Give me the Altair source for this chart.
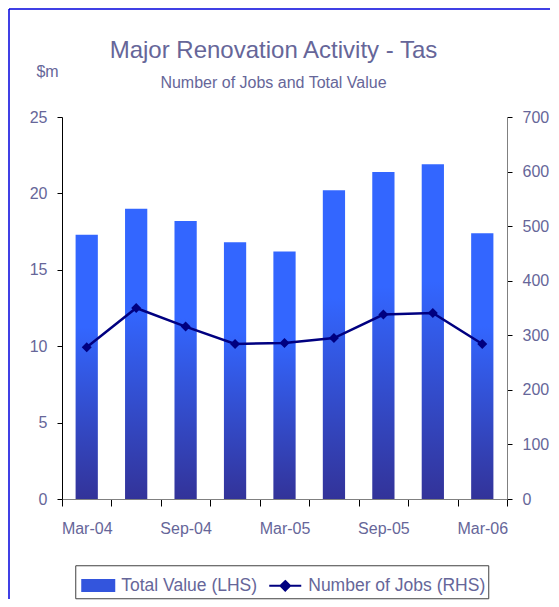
import json
import altair as alt
import pandas as pd

# ---- data ----
quarters = ["Mar-04", "Jun-04", "Sep-04", "Dec-04", "Mar-05",
            "Jun-05", "Sep-05", "Dec-05", "Mar-06"]
total_value = [17.3, 19.0, 18.2, 16.8, 16.2, 20.2, 21.4, 21.9, 17.4]   # $m (LHS)
num_jobs = [278, 350, 316, 284, 286, 295, 338, 341, 284]              # jobs (RHS)
left_ticks = [0, 5, 10, 15, 20, 25]
right_ticks = [0, 100, 200, 300, 400, 500, 600, 700]
shown_labels = ["Mar-04", "Sep-04", "Mar-05", "Sep-05", "Mar-06"]
series = ["Total Value (LHS)", "Number of Jobs (RHS)"]

FONT = "Liberation Sans"
TXT = "#666699"
NAVY = "#000080"

df = pd.DataFrame({"quarter": quarters, "value": total_value,
                   "jobs": num_jobs, "series": series[1]})
frame_df = pd.DataFrame({"k": [0]})

bar_gradient = {
    "gradient": "linear", "x1": 1, "y1": 1, "x2": 1, "y2": 0,
    "stops": [{"offset": 0, "color": "#333399"},
              {"offset": 0.65, "color": "#3366ff"},
              {"offset": 1, "color": "#3366ff"}],
}

x_enc = alt.X(
    "quarter:N", sort=quarters,
    scale=alt.Scale(type="band", paddingInner=0, paddingOuter=0),
    axis=alt.Axis(
        title=None, tickBand="extent", labelAngle=0,
        labelExpr=f"indexof({json.dumps(shown_labels)}, datum.value) >= 0 ? datum.value : ''",
        domainColor="#808080", tickColor="black", tickSize=7, labelPadding=14,
        grid=False,
    ),
)

bars = alt.Chart(df).mark_bar(color=bar_gradient, width={"band": 0.45}).encode(
    x=x_enc,
    y=alt.Y(
        "value:Q",
        scale=alt.Scale(domain=[0, 25], nice=False),
        axis=alt.Axis(
            orient="left", values=left_ticks, grid=False,
            title="$m", titleAngle=0, titleX=-15, titleY=-41,
            titleAlign="center", titleBaseline="alphabetic",
            domainColor="black", tickColor="black", tickSize=5, labelPadding=10,
        ),
    ),
)

cond = f"datum.value === '{series[0]}'"
rect_path = "M-1,-0.34H1V0.34H-1Z"
line_path = "M-1,0H1M0,-0.3L0.3,0L0,0.3L-0.3,0Z"
grad_expr = ("{gradient:'linear',x1:1,y1:1,x2:1,y2:0,"
             "stops:[{offset:0,color:'#333399'},{offset:1,color:'#3366ff'}]}")

legend = alt.Legend(
    title=None, orient="none", legendX=13.25, legendY=448.25,
    direction="horizontal", strokeColor="#404040", fillColor="white",
    padding=3, symbolOffset=3, labelFont=FONT, labelFontSize=17.5,
    labelColor=TXT, labelLimit=300, labelOffset=6, columnPadding=8,
    symbolSize=1024, symbolStrokeWidth=2, symbolOpacity=1,
    symbolType=alt.ExprRef(f"{cond} ? '{rect_path}' : '{line_path}'"),
    symbolFillColor=alt.ExprRef(f"{cond} ? {grad_expr} : '{NAVY}'"),
    symbolStrokeColor=alt.ExprRef(f"{cond} ? 'transparent' : '{NAVY}'"),
)

line = alt.Chart(df).mark_line(
    strokeWidth=2.5,
    point=alt.OverlayMarkDef(shape="diamond", size=100, filled=True),
).encode(
    x=x_enc,
    y=alt.Y(
        "jobs:Q",
        scale=alt.Scale(domain=[0, 700], nice=False),
        axis=alt.Axis(
            orient="right", values=right_ticks, grid=False, title=None,
            domainColor="#808080", tickColor="black", tickSize=5, labelPadding=10,
        ),
    ),
    color=alt.Color("series:N",
                    scale=alt.Scale(domain=series, range=["#3355dd", NAVY]),
                    legend=legend),
)

border = "#0000dd"
top_rule = alt.Chart(frame_df).mark_rule(color=border, strokeWidth=1.5).encode(
    x=alt.value(-53), x2=alt.value(488), y=alt.value(-108))
left_rule = alt.Chart(frame_df).mark_rule(color=border, strokeWidth=1.5).encode(
    x=alt.value(-53), y=alt.value(-108), y2=alt.value(482))

chart = alt.layer(top_rule, left_rule, bars, line).resolve_scale(
    y="independent"
).properties(
    width=445, height=382,
    padding={"left": 0, "top": 0, "right": 0, "bottom": 0},
    title=alt.TitleParams(
        text="Major Renovation Activity - Tas",
        subtitle="Number of Jobs and Total Value",
        font=FONT, fontSize=24, fontWeight="normal", color=TXT,
        subtitleFont=FONT, subtitleFontSize=16, subtitleColor=TXT,
        subtitlePadding=12, offset=-83, dx=-11, anchor="middle",
    ),
).configure_axis(
    labelFont=FONT, labelFontSize=16, labelColor=TXT,
    titleFont=FONT, titleFontSize=16, titleColor=TXT, titleFontWeight="normal",
).configure_view(stroke=None)

chart.save("out.html", embed_options={"renderer": "svg", "actions": False})
